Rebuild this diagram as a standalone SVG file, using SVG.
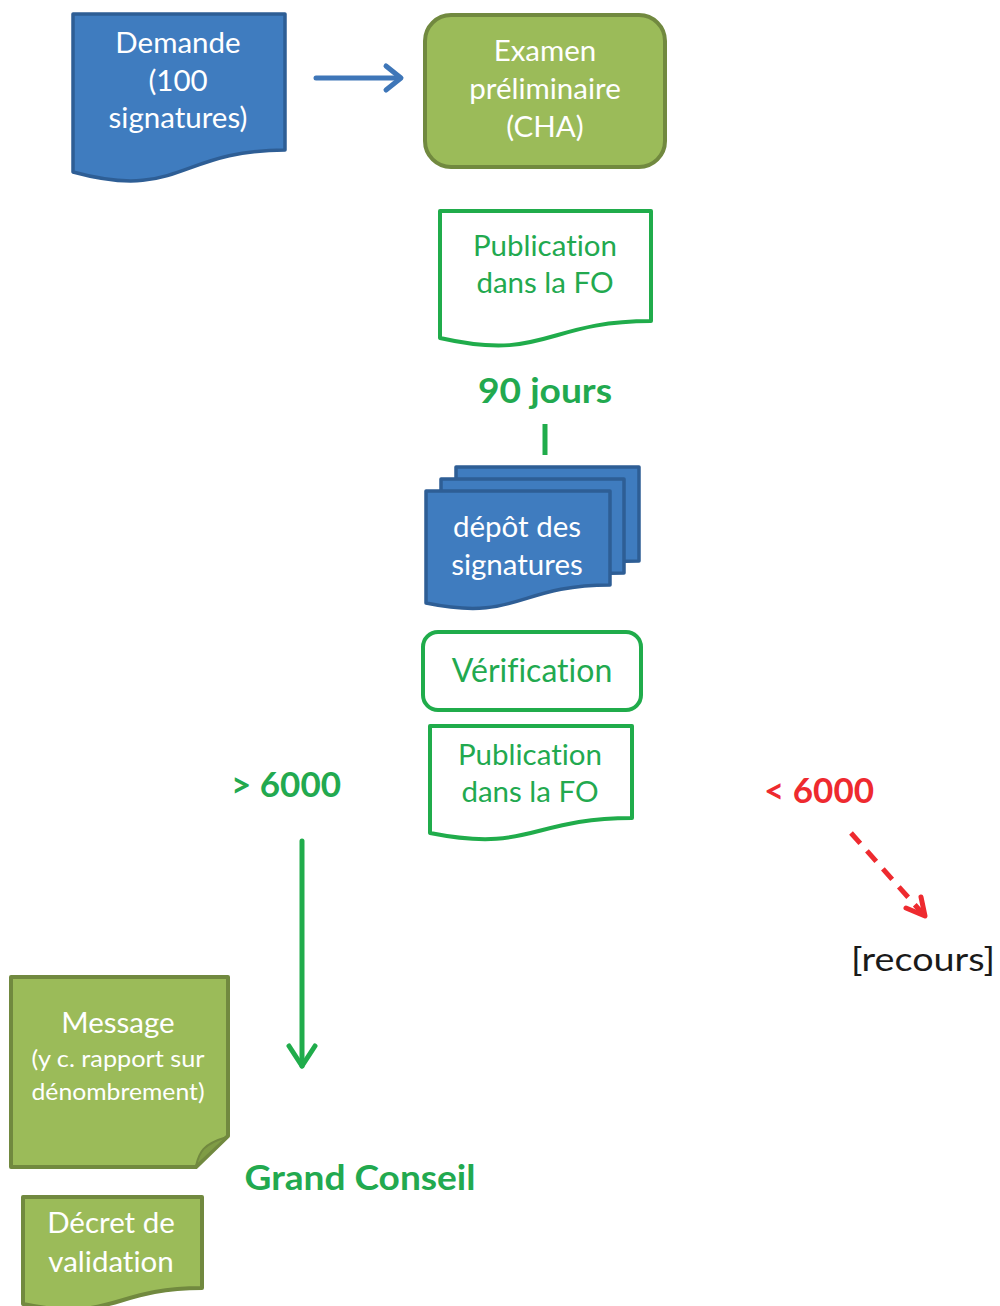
<svg xmlns="http://www.w3.org/2000/svg" width="1000" height="1306" viewBox="0 0 1000 1306">
  <style>
    .txt { font-family: Lato, "Open Sans", "Liberation Sans", sans-serif; text-anchor: middle; font-variant-ligatures: none; font-feature-settings: "liga" 0, "dlig" 0; }
    .w { fill: #ffffff; font-size: 29.5px; }
    .g { fill: #22a94f; font-size: 29.5px; }
    .gb { fill: #22a94f; font-size: 35px; font-weight: bold; }
    .rb { fill: #ee2a2f; font-size: 35px; font-weight: bold; }
    .k { fill: #1a1a1a; font-size: 32px; }
    .blue { fill: #3f7cbf; stroke: #2e5e95; stroke-width: 3.5; stroke-linejoin: round; }
    .olive { fill: #9bbb59; stroke: #71893f; stroke-width: 4; stroke-linejoin: round; }
    .outline { fill: #ffffff; stroke: #20ac4b; stroke-width: 4; stroke-linejoin: round; }
  </style>

  <!-- Demande -->
  <g id="demande">
    <path class="blue" d="M73,14 H285 V150 C179,150 179,201 73,172 Z"/>
    <text class="txt w" x="178" y="53">Demande</text>
    <text class="txt w" x="178" y="91">(100</text>
    <text class="txt w" x="178" y="128">signatures)</text>
  </g>

  <!-- Examen préliminaire -->
  <g id="examen">
    <rect class="olive" x="425" y="15" width="240" height="152" rx="26"/>
    <text class="txt w" x="545" y="61">Examen</text>
    <text class="txt w" x="545" y="99">préliminaire</text>
    <text class="txt w" x="545" y="137">(CHA)</text>
  </g>

  <!-- Publication 1 -->
  <g id="publication1">
    <path class="outline" d="M440,211 H651 V321 C545.5,321 545.5,362 440,338 Z"/>
    <text class="txt g" x="545" y="256">Publication</text>
    <text class="txt g" x="545" y="293">dans la FO</text>
  </g>

  <!-- 90 jours -->
  <g id="jours">
    <text class="txt gb" x="545" y="403" textLength="134" lengthAdjust="spacingAndGlyphs">90 jours</text>
  </g>

  <!-- Dépôt des signatures (pile) -->
  <g id="depot">
    <path class="blue" d="M456,467 H639 V561 C547,561 547,590 456,578 Z"/>
    <path class="blue" d="M441,479 H624 V573 C532,573 532,602 441,590 Z"/>
    <path class="blue" d="M426,491 H610 V585 C518,585 518,622 426,603 Z"/>
    <text class="txt w" x="517" y="537">dépôt des</text>
    <text class="txt w" x="517" y="575">signatures</text>
  </g>

  <!-- Vérification -->
  <g id="verification">
    <rect class="outline" x="423" y="632" width="218" height="78" rx="15"/>
    <text class="txt g" x="532" y="682" style="font-size:32px">Vérification</text>
  </g>

  <!-- Publication 2 -->
  <g id="publication2">
    <path class="outline" d="M430,726 H632 V818 C531,818 531,853 430,833 Z"/>
    <text class="txt g" x="530" y="765">Publication</text>
    <text class="txt g" x="530" y="802">dans la FO</text>
  </g>

  <!-- Seuils -->
  <g id="plus6000">
    <text class="txt gb" x="286" y="797">&gt; 6000</text>
  </g>
  <g id="moins6000">
    <text class="txt rb" x="819" y="803">&lt; 6000</text>
  </g>

  <!-- Recours -->
  <g id="recours">
    <text class="txt k" x="923" y="971" textLength="144" lengthAdjust="spacingAndGlyphs">[recours]</text>
  </g>

  <!-- Message -->
  <g id="message">
    <path class="olive" d="M11,977 H228 V1136 L196,1167 H11 Z"/>
    <path d="M196,1166 C199,1152 203,1144 227,1137 Z" fill="#7f9c45" stroke="#71893f" stroke-width="2"/>
    <text class="txt w" x="118" y="1033">Message</text>
    <text class="txt w" x="118" y="1067" style="font-size:23px" textLength="173" lengthAdjust="spacingAndGlyphs">(y c. rapport  sur</text>
    <text class="txt w" x="118" y="1100" style="font-size:23px" textLength="173" lengthAdjust="spacingAndGlyphs">dénombrement)</text>
  </g>

  <!-- Grand Conseil -->
  <g id="grandconseil">
    <text class="txt gb" x="360" y="1190" textLength="231" lengthAdjust="spacingAndGlyphs">Grand Conseil</text>
  </g>

  <!-- Décret de validation -->
  <g id="decret">
    <path class="olive" d="M23,1197 H202 V1288 C112.5,1288 112.5,1323 23,1304 Z"/>
    <text class="txt w" x="111" y="1233">Décret de</text>
    <text class="txt w" x="111" y="1272">validation</text>
  </g>

  <!-- Connecteurs -->
  <g id="connectors" fill="none" stroke-linecap="round" stroke-linejoin="round">
    <line x1="316" y1="78" x2="400" y2="78" stroke="#3e76b8" stroke-width="5"/>
    <polyline points="386,66 401,78 386,90" stroke="#3e76b8" stroke-width="5"/>
    <line x1="545" y1="424" x2="545" y2="455" stroke="#20ac4b" stroke-width="5" stroke-linecap="butt"/>
    <line x1="302" y1="841" x2="302" y2="1066" stroke="#20ac4b" stroke-width="5"/>
    <polyline points="289,1046 302,1066 315,1046" stroke="#20ac4b" stroke-width="5"/>
    <line x1="851" y1="833" x2="923" y2="914" stroke="#ee2a2f" stroke-width="5" stroke-dasharray="14 10" stroke-linecap="butt"/>
    <polyline points="906,908 925,916 921,897" stroke="#ee2a2f" stroke-width="5"/>
  </g>
</svg>
